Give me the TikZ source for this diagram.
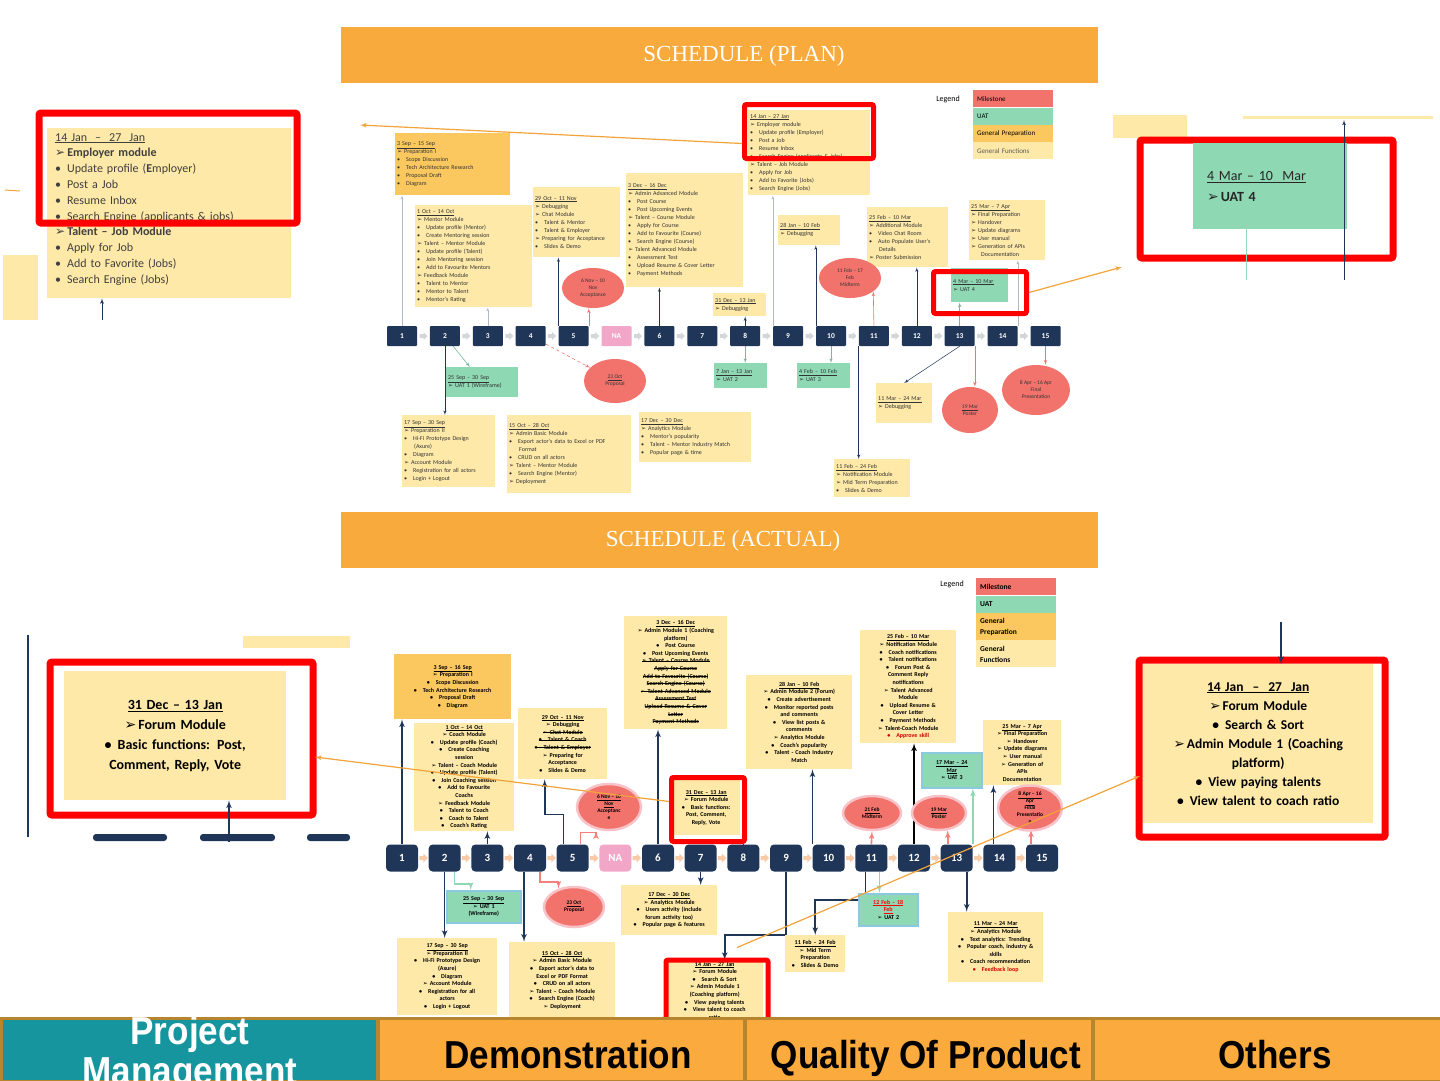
\documentclass[tikz,border=0pt]{standalone}
\usepackage{fontspec}
\setmainfont{Carlito}
\newfontfamily\symfont{DejaVu Sans}
\newfontfamily\headfont{Liberation Serif}
\newfontfamily\barfont{Liberation Sans}[FakeStretch=0.9]
\usepackage{tikz}
\usetikzlibrary{shapes,arrows,calc,positioning}
\pgfdeclarelayer{background}
\pgfsetlayers{background,main}

\definecolor{navy}{HTML}{1F3658}
\definecolor{bannerorange}{HTML}{F8AA3C}
\definecolor{prepyellow}{HTML}{FBC860}
\definecolor{funcyellow}{HTML}{FEE9A8}
\definecolor{uatgreen}{HTML}{8ED8B4}
\definecolor{milered}{HTML}{F2726C}
\definecolor{halopink}{HTML}{F7C3C9}
\definecolor{napink}{HTML}{F2A7C8}
\definecolor{callred}{HTML}{FF0000}
\definecolor{chevgrey}{HTML}{D3D6DB}
\definecolor{chevpeach}{HTML}{F8CBA6}
\definecolor{uatblue}{HTML}{8CC8E0}
\definecolor{pmteal}{HTML}{17959F}
\definecolor{barorange}{HTML}{FBAB3E}
\definecolor{barbrown}{HTML}{B8852F}
\definecolor{arrowor}{HTML}{F2A33A}
\definecolor{textgrey}{HTML}{404040}

\newcommand{\chev}{{\symfont ➢}\hspace{2pt}}
\newcommand{\bul}{\textbullet\hspace{6pt}}
\newsavebox{\strikebox}
\newcommand{\strike}[1]{\leavevmode\sbox{\strikebox}{#1}\rlap{\usebox{\strikebox}}\rule[0.6ex]{\wd\strikebox}{0.5pt}}

\tikzstyle{line} = [draw, -latex']
\tikzstyle{navyline} = [line, navy, line width=0.5pt]
\tikzstyle{faintline} = [line, navy!35, line width=0.4pt]
\tikzstyle{redline} = [line, milered, line width=0.6pt]
\tikzstyle{greenline} = [line, uatgreen!85!black, line width=0.6pt]
\tikzstyle{thickline} = [line, navy, line width=1.6pt]
\tikzstyle{amline} = [line, milered!90!white, line width=1.6pt]
\tikzstyle{auline} = [line, uatgreen, line width=1.6pt]
\tikzstyle{pointer} = [draw=arrowor, line width=1.2pt, -latex']
\tikzstyle{block} = [fill=funcyellow, anchor=north west, inner sep=2pt, align=left, text=black!80, font=\fontsize{6}{8}\selectfont]
\tikzstyle{prepblock} = [block, fill=prepyellow]
\tikzstyle{uatblock} = [block, fill=uatgreen]
\tikzstyle{ablock} = [block, align=center, text=black, font=\bfseries\fontsize{6}{7.6}\selectfont]
\tikzstyle{aprep} = [ablock, fill=prepyellow]
\tikzstyle{auat} = [ablock, fill=uatgreen, draw=uatblue, line width=1.5pt]
\tikzstyle{mile} = [ellipse, fill=milered, inner sep=0pt, align=center, text=black!80, font=\fontsize{5.5}{7}\selectfont]
\tikzstyle{amile} = [mile, draw=halopink, line width=2.5pt, text=black, font=\bfseries\fontsize{5.5}{7}\selectfont]
\tikzstyle{tnode} = [fill=navy, text=white, minimum width=30pt, minimum height=20pt, inner sep=0pt, rounded corners=1pt, font=\bfseries\fontsize{7.5}{8}\selectfont]
\tikzstyle{anode} = [tnode, minimum width=32pt, minimum height=27pt, rounded corners=4pt, font=\bfseries\fontsize{11}{12}\selectfont]
\tikzstyle{callout} = [draw=callred, line width=5pt, rounded corners=2pt, anchor=north west, inner sep=0pt]
\tikzstyle{banner} = [fill=bannerorange, anchor=north west, minimum width=757pt, minimum height=56pt]
\tikzstyle{legendbox} = [anchor=north west, text width=72pt, minimum height=17pt, inner sep=4pt, align=left, font=\fontsize{7}{9}\selectfont]
\tikzstyle{barcell} = [fill=barorange, draw=barbrown, line width=2.5pt, anchor=north west, minimum height=63pt]
\tikzstyle{bartext} = [font=\barfont\bfseries\fontsize{39}{40}\selectfont, anchor=base, inner sep=0pt]

\begin{document}
\begin{tikzpicture}[x=1pt, y=-1pt]
\useasboundingbox (0,0) rectangle (1440,1080);

% ---------------- schedule (plan) ----------------
\node[banner] (plan) at (341,27) {};
\node[text=white, font=\headfont\fontsize{23}{26}\selectfont] (plantitle) at (744,56) {SCHEDULE (PLAN)};

\node[font=\fontsize{8}{9}\selectfont] (plegend) at (948,99) {Legend};
\node[legendbox, fill=milered] (plm) at (973,90) {Milestone};
\node[legendbox, fill=uatgreen, below=0pt of plm] (plu) {UAT};
\node[legendbox, fill=prepyellow, below=0pt of plu] (plp) {General Preparation};
\node[legendbox, fill=funcyellow, text=black!65, below=0pt of plp] (plf) {General Functions};

\foreach \lab/\i in {1/0,2/1,3/2,4/3,5/4,6/6,7/7,8/8,9/9,10/10,11/11,12/12,13/13,14/14,15/15}
  \node[tnode] (p\lab) at ({402+42.9*\i},336) {\lab};
\node[tnode, fill=napink] (pNA) at ({402+42.9*5},336) {NA};
\foreach \i in {0,...,14}
  \fill[chevgrey] ({419.5+42.9*\i},334) -- ++(4,0) -- ++(0,-2) -- ++(4,4) -- ++(-4,4) -- ++(0,-2) -- ++(-4,0) -- cycle;

\node[prepblock, text width=111pt, minimum height=62pt] (b1) at (395,133) {\underline{3 Sep – 15 Sep}\\ \chev Preparation I\\ \bul Scope Discussion\\ \bul Tech Architecture Research\\ \bul Proposal Draft\\ \bul Diagram};
\node[block, text width=113pt, minimum height=102pt] (b2) at (415,205) {\underline{1 Oct – 14 Oct}\\ \chev Mentor Module\\ \bul Update profile (Mentor)\\ \bul Create Mentoring session\\ \chev Talent – Mentor Module\\ \bul Update profile (Talent)\\ \bul Join Mentoring session\\ \bul Add to Favourite Mentors\\ \chev Feedback Module\\ \bul Talent to Mentor\\ \bul Mentor to Talent\\ \bul Mentor's Rating};
\node[block, text width=83pt, minimum height=70pt] (b4) at (533,187) {\underline{29 Oct – 11 Nov}\\ \chev Debugging\\ \chev Chat Module\\ \bul Talent \& Mentor\\ \bul Talent \& Employer\\ \chev Preparing for Acceptance\\ \bul Slides \& Demo};
\node[block, text width=113pt, minimum height=114pt] (b6) at (626,173) {\underline{3 Dec – 16 Dec}\\ \chev Admin Advanced Module\\ \bul Post Course\\ \bul Post Upcoming Events\\ \chev Talent – Course Module\\ \bul Apply for Course\\ \bul Add to Favourite (Course)\\ \bul Search Engine (Course)\\ \chev Talent Advanced Module\\ \bul Assessment Test\\ \bul Upload Resume \& Cover Letter\\ \bul Payment Methods};
\node[block, text width=49pt, minimum height=23pt] (b8) at (713,293) {\underline{31 Dec – 13 Jan}\\ \chev Debugging};
\node[block, text width=118pt, minimum height=85pt] (b9) at (748,110) {\underline{14 Jan – 27 Jan}\\ \chev Employer module\\ \bul Update profile (Employer)\\ \bul Post a Job\\ \bul Resume Inbox\\ \bul Search Engine (applicants \& jobs)\\ \chev Talent – Job Module\\ \bul Apply for Job\\ \bul Add to Favorite (Jobs)\\ \bul Search Engine (Jobs)};
\node[block, text width=58pt, minimum height=30pt] (b10) at (778,215) {\underline{28 Jan – 10 Feb}\\ \chev Debugging};
\node[block, text width=77pt, minimum height=60pt] (b12) at (867,207) {\underline{25 Feb – 10 Mar}\\ \chev Additional Module\\ \bul Video Chat Room\\ \bul Auto Populate User's\\ \hspace{10pt}Details\\ \chev Poster Submission};
\node[block, text width=72pt, minimum height=60pt] (b14) at (969,200) {\underline{25 Mar – 7 Apr}\\ \chev Final Preparation\\ \chev Handover\\ \chev Update diagrams\\ \chev User manual\\ \chev Generation of APIs\\ \hspace{10pt}Documentation};
\node[uatblock, text width=53pt, minimum height=34pt] (u4) at (951,268) {\underline{4 Mar – 10 Mar}\\ \chev UAT 4};

\node[uatblock, text width=68pt, minimum height=30pt] (u1) at (446,367) {\underline{25 Sep – 30 Sep}\\ \chev UAT 1 (Wireframe)};
\node[uatblock, text width=49pt, minimum height=25pt] (u2) at (714,363) {\underline{7 Jan – 13 Jan}\\ \chev UAT 2};
\node[uatblock, text width=49pt, minimum height=25pt] (u3) at (797,363) {\underline{4 Feb – 10 Feb}\\ \chev UAT 3};
\node[block, text width=52pt, minimum height=40pt] (b13) at (876,383) {\underline{11 Mar – 24 Mar}\\ \chev Debugging};
\node[block, text width=89pt, minimum height=72pt] (b2b) at (402,415) {\underline{17 Sep – 30 Sep}\\ \chev Preparation II\\ \bul Hi-Fi Prototype Design\\ \hspace{10pt}(Axure)\\ \bul Diagram\\ \chev Account Module\\ \bul Registration for all actors\\ \bul Login + Logout};
\node[block, text width=120pt, minimum height=78pt] (b4b) at (507,415) {\underline{15 Oct – 28 Oct}\\ \chev Admin Basic Module\\ \bul Export actor's data to Excel or PDF\\ \hspace{10pt}Format\\ \bul CRUD on all actors\\ \chev Talent – Mentor Module\\ \bul Search Engine (Mentor)\\ \chev Deployment};
\node[block, text width=108pt, minimum height=50pt] (b7b) at (639,412) {\underline{17 Dec – 30 Dec}\\ \chev Analytics Module\\ \bul Mentor's popularity\\ \bul Talent – Mentor Industry Match\\ \bul Popular page \& time};
\node[block, text width=72pt, minimum height=38pt] (b11b) at (834,459) {\underline{11 Feb – 24 Feb}\\ \chev Notification Module\\ \chev Mid Term Preparation\\ \bul Slides \& Demo};

\node[mile, minimum width=62pt, minimum height=44pt] (m4) at (615,381) {\underline{23 Oct}\\Proposal};
\node[mile, minimum width=62pt, minimum height=40pt] (m5) at (593,288) {6 Nov – 10\\Nov\\Acceptance};
\node[mile, minimum width=62pt, minimum height=40pt] (m10) at (850,278) {11 Feb – 17\\Feb\\Midterm};
\node[mile, minimum width=56pt, minimum height=46pt] (m13) at (970,410) {\underline{19 Mar}\\Poster};
\node[mile, minimum width=68pt, minimum height=50pt] (m15) at (1036,390) {8 Apr – 16 Apr\\Final\\Presentation};

\node[callout, minimum width=129pt, minimum height=54pt] (r9) at (742,102) {};
\node[callout, minimum width=93pt, minimum height=42pt] (r14) at (931,269) {};

\begin{pgfonlayer}{background}
\path[faintline] (p1.north) -- (p1.north |- b1.south);
\path[faintline] (p3.north) -- (p3.north |- b2.south);
\path[navyline] (p5.north west) -- (p5.north west |- b4.south);
\path[redline] (p5.north east) -- (p5.north east |- m5.south);
\path[navyline] (p6.north) -- (p6.north |- b6.south);
\path[navyline] (p8.north) -- (p8.north |- b8.south);
\path[faintline] (p9.north west) -- (p9.north west |- b9.south);
\path[navyline] (p10.north west) -- (p10.north west |- b10.south);
\path[redline] (p11.north) -- (m10.-30);
\path[navyline] (p12.north) -- (p12.north |- b12.south);
\path[greenline] (p13.north) -- (p13.north |- u4.south);
\path[faintline] (p14.north east) -- (p14.north east |- b14.south);
\path[navyline] (p2.south) -- (p2.south |- b2b.north);
\path[greenline] (p2) -- (u1);
\path[redline, dashed] (p4) -- (m4);
\path[greenline] (p8.south) -- (p8.south |- u2.north);
\path[greenline] (p10.south) -- (p10.south |- u3.north);
\path[navyline] (p11.south west) -- (p11.south west |- b11b.north);
\path[navyline] (p13.south) -- (b13.north);
\path[redline] (p13.south east) -- (p13.south east |- m13.north);
\path[redline] (p15.south) -- (p15.south |- m15.north);
\end{pgfonlayer}

% zoomed call-outs of the plan
\fill[funcyellow] (3,255) rectangle (38,320);
\draw[arrowor, line width=1pt] (5,190) -- (20,191);
\node[block, text width=228pt, minimum height=170pt, inner xsep=8pt, text=textgrey, font=\fontsize{12}{15.8}\selectfont] (tl9) at (47,128) {\underline{14 Jan \ – \ 27 \ Jan}\\ \chev\textbf{Employer module}\\ \bul Update profile (\textbf{E}mployer)\\ \bul Post a Job\\ \bul Resume Inbox\\ \bul Search Engine (applicants \& jobs)\\ \chev\textbf{Talent – Job Module}\\ \bul Apply for Job\\ \bul Add to Favorite (Jobs)\\ \bul Search Engine (Jobs)\\[-6pt] \mbox{}};
\node[callout, line width=7pt, minimum width=258pt, minimum height=110pt] (rtl) at (35.5,109.5) {};
\coordinate (tlfoot) at (102,320);
\draw[navyline, line width=0.8pt] (tlfoot) -- (tlfoot |- tl9.south);

\fill[funcyellow] (1113,115) rectangle (1187,138);
\fill[funcyellow] (1243,116) rectangle (1433,119);
\node[callout, line width=7pt, minimum width=253pt, minimum height=118pt] (rtr) at (1136.5,136.5) {};
\node[uatblock, text width=126pt, minimum height=86pt, inner xsep=14pt, text=black!85, font=\fontsize{14}{21}\selectfont] (tr4) at (1193,143) {\underline{4 Mar – 10 \ Mar}\\ \chev\textbf{UAT 4}};
\coordinate (trtop) at (1344,120);
\coordinate (trfoot) at (1344,280);
\draw[navyline, line width=0.8pt] (trfoot) -- (trtop);
\coordinate (trg) at (1246,280);
\draw[uatgreen, line width=0.8pt] (trg) -- (trg |- tr4.south);

\coordinate (tlpt) at (360,125);
\draw[pointer] ($(r9.west)+(0,12)$) -- (tlpt);
\coordinate (trpt) at (1122,267);
\draw[pointer] (r14.east) -- (trpt);

% ---------------- schedule (actual) ----------------
\node[banner] (actual) at (341,512) {};
\node[text=white, font=\headfont\fontsize{23}{26}\selectfont] (actualtitle) at (723,541) {SCHEDULE (ACTUAL)};

\node[font=\fontsize{8}{9}\selectfont] (alegend) at (952,584) {Legend};
\node[legendbox, fill=milered, font=\bfseries\fontsize{7.5}{10}\selectfont] (alm) at (976,578) {Milestone};
\node[legendbox, fill=uatgreen, font=\bfseries\fontsize{7.5}{10}\selectfont, below=0pt of alm] (alu) {UAT};
\node[legendbox, fill=prepyellow, minimum height=27pt, font=\bfseries\fontsize{7.5}{11}\selectfont, below=0pt of alu] (alp) {General\\Preparation};
\node[legendbox, fill=funcyellow, minimum height=27pt, font=\bfseries\fontsize{7.5}{11}\selectfont, below=0pt of alp] (alf) {General\\Functions};

\foreach \lab/\i in {1/0,2/1,3/2,4/3,5/4,6/6,7/7,8/8,9/9,10/10,11/11,12/12,13/13,14/14,15/15}
  \node[anode] (a\lab) at ({402+42.67*\i},858) {\lab};
\node[anode, fill=napink] (aNA) at ({402+42.67*5},858) {NA};
\foreach \i in {0,...,14}
  \fill[chevpeach] ({419.3+42.67*\i},856) -- ++(4,0) -- ++(0,-2.5) -- ++(4.5,4.5) -- ++(-4.5,4.5) -- ++(0,-2.5) -- ++(-4,0) -- cycle;

\node[aprep, text width=113pt, minimum height=65pt] (c1) at (394,654) {\underline{3 Sep – 16 Sep}\\ \chev Preparation I\\ \bul Scope Discussion\\ \bul Tech Architecture Research\\ \bul Proposal Draft\\ \bul Diagram};
\node[ablock, text width=96pt, minimum height=107pt] (c3) at (414,723) {\underline{1 Oct – 14 Oct}\\ \chev Coach Module\\ \bul Update profile (Coach)\\ \bul Create Coaching\\ session\\ \chev Talent – Coach Module\\ \bul Update profile (Talent)\\ \bul Join Coaching session\\ \bul Add to Favourite\\ Coachs\\ \chev Feedback Module\\ \bul Talent to Coach\\ \bul Coach to Talent\\ \bul Coach's Rating};
\node[ablock, text width=85pt, minimum height=71pt] (c5) at (518,708) {\underline{29 Oct – 11 Nov}\\ \chev Debugging\\ \strike{\chev Chat Module}\\ \strike{\bul Talent \& Coach}\\ \strike{\bul Talent \& Employer}\\ \chev Preparing for\\ Acceptance\\ \bul Slides \& Demo};
\node[ablock, text width=99pt, minimum height=113pt] (c6) at (624,616) {\underline{3 Dec – 16 Dec}\\ \chev Admin Module 1 (Coaching\\ platform)\\ \bul Post Course\\ \bul Post Upcoming Events\\ \strike{\chev Talent – Course Module}\\ \strike{Apply for Course}\\ \strike{Add to Favourite (Course)}\\ \strike{Search Engine (Course)}\\ \strike{\chev Talent Advanced Module}\\ \strike{Assessment Test}\\ \strike{Upload Resume \& Cover}\\ \strike{Letter}\\ \strike{Payment Methods}};
\node[ablock, text width=64pt, minimum height=55pt] (c8) at (672,780) {\underline{31 Dec – 13 Jan}\\ \chev Forum Module\\ \bul Basic functions:\\ Post, Comment,\\ Reply, Vote};
\node[callout, minimum width=73pt, minimum height=64pt] (r8) at (669,775) {};
\node[ablock, text width=102pt, minimum height=94pt] (c10) at (746,675) {\underline{28 Jan – 10 Feb}\\ \chev Admin Module 2 (Forum)\\ \bul Create advertisement\\ \bul Monitor reported posts\\ and comments\\ \bul View list posts \&\\ comments\\ \chev Analytics Module\\ \bul Coach's popularity\\ \bul Talent - Coach Industry\\ Match};
\node[ablock, text width=92pt, minimum height=113pt] (c12) at (860,630) {\underline{25 Feb – 10 Mar}\\ \chev Notification Module\\ \bul Coach notifications\\ \bul Talent notifications\\ \bul Forum Post \&\\ Comment Reply\\ notifications\\ \chev Talent Advanced\\ Module\\ \bul Upload Resume \&\\ Cover Letter\\ \bul Payment Methods\\ \chev Talent-Coach Module\\ \textcolor{red!80!black}{\bul Approve skill}};
\node[auat, text width=56pt, minimum height=35pt] (cu3) at (921,752) {\underline{17 Mar – 24}\\ \underline{Mar}\\ \chev UAT 3};
\node[ablock, text width=74pt, minimum height=65pt] (c14) at (983,720) {\underline{25 Mar – 7 Apr}\\ \chev Final Preparation\\ \chev Handover\\ \chev Update diagrams\\ \chev User manual\\ \chev Generation of\\ APIs\\ Documentation};

\node[amile, minimum width=64pt, minimum height=46pt] (cm5) at (609,807) {\underline{6 Nov – 10}\\ \underline{Nov}\\ Acceptanc\\ e};
\node[amile, minimum width=58pt, minimum height=34pt] (cm11) at (872,813) {\underline{21 Feb}\\ Midterm};
\node[amile, minimum width=54pt, minimum height=34pt] (cm13) at (939,813) {\underline{19 Mar}\\ Poster};
\node[amile, minimum width=64pt, minimum height=42pt] (cm15) at (1030,808) {\underline{8 Apr – 16}\\ \underline{Apr}\\ Final\\ Presentatio\\ n};
\node[amile, minimum width=60pt, minimum height=40pt] (cm4) at (574,907) {\underline{23 Oct}\\ Proposal};

\node[auat, text width=70pt, minimum height=32pt] (cu1) at (446,890) {\underline{25 Sep – 30 Sep}\\ \chev UAT 1\\ (Wireframe)};
\node[ablock, text width=92pt, minimum height=50pt] (c7b) at (621,885) {\underline{17 Dec – 30 Dec}\\ \chev Analytics Module\\ \bul Users activity (include\\ forum activity too)\\ \bul Popular page \& features};
\node[auat, text width=55pt, minimum height=32pt] (cu2) at (858,893) {\textcolor{red}{\underline{12 Feb – 18}}\\ \textcolor{red}{\underline{Feb}}\\ \chev UAT 2};
\node[ablock, text width=56pt, minimum height=37pt] (c11b) at (785,935) {\underline{11 Feb – 24 Feb}\\ \chev Mid Term\\ Preparation\\ \bul Slides \& Demo};
\node[ablock, text width=91pt, minimum height=70pt] (c13b) at (948,912) {\underline{11 Mar – 24 Mar}\\ \chev Analytics Module\\ \bul Text analytics: Trending\\ \bul Popular coach, industry \&\\ skills\\ \bul Coach recommendation\\ \textcolor{red!80!black}{\bul Feedback loop}};
\node[ablock, text width=96pt, minimum height=77pt] (c2b) at (397,938) {\underline{17 Sep – 30 Sep}\\ \chev Preparation II\\ \bul Hi-Fi Prototype Design\\ (Axure)\\ \bul Diagram\\ \chev Account Module\\ \bul Registration for all\\ actors\\ \bul Login + Logout};
\node[ablock, text width=102pt, minimum height=76pt] (c4b) at (509,942) {\underline{15 Oct – 28 Oct}\\ \chev Admin Basic Module\\ \bul Export actor's data to\\ Excel or PDF Format\\ \bul CRUD on all actors\\ \chev Talent – Coach Module\\ \bul Search Engine (Coach)\\ \chev Deployment};
\node[ablock, text width=93pt] (c9b) at (666,960) {\underline{14 Jan – 27 Jan}\\ \chev Forum Module\\ \bul Search \& Sort\\ \chev Admin Module 1\\ (Coaching platform)\\ \bul View paying talents\\ \bul View talent to coach\\ ratio};
\node[callout, minimum width=102pt, minimum height=80pt] (r9b) at (663.5,957.5) {};

\begin{pgfonlayer}{background}
\path[thickline] (a1.north) -- (a1.north |- c1.south);
\path[thickline] (a3.north) -- (a3.north |- c3.south);
\path[thickline] ($(a5.north)+(-9,0)$) -- ++(0,-30) -| ($(c5.south)+(-18,0)$);
\path[amline] ($(a5.north)+(8,0)$) -- ++(0,-12) -| ($(cm5.south)+(-13,0)$);
\path[thickline] (a6.north) -- (a6.north |- c6.south);
\path[thickline] (a8.north) -- (a8.north |- r8.south);
\path[thickline] (a10.north west) -- (a10.north west |- c10.south);
\path[amline] (a11.north) -- (cm11.south);
\path[thickline, black] (a12.north) -- (a12.north |- c12.south);
\path[amline] ($(a13.north)+(-9,0)$) -- ++(0,-14);
\path[auline] (a13.north east) -- (a13.north east |- cu3.south);
\path[thickline] ($(a14.north)+(-6,0)$) -- ++(0,-59);
\path[amline] ($(a15.north)+(-11,0)$) -- ++(0,-15);
\path[thickline] (a2.south) -- (a2.south |- c2b.north);
\path[auline] ($(a2.south)+(10,0)$) -- ++(0,12) -| ($(cu1.north)+(-13,0)$);
\path[thickline] ($(a4.south)+(-6,0)$) -- ++(0,70);
\path[amline] ($(a4.south)+(10,0)$) -- ++(0,10) -| (cm4.130);
\path[thickline] (a7.south) -- (a7.south |- c7b.north);
\path[thickline] (a9.south) -- ++(0,63) -| ($(c9b.north)+(10,0)$);
\path[thickline] ($(a11.south)+(-6,0)$) -- ++(0,28) -| (c11b.north);
\path[auline] ($(a11.south)+(8,0)$) -- ++(0,21);
\path[thickline] ($(a13.south)+(10,0)$) -- ++(0,40);
\end{pgfonlayer}

% zoomed call-outs of the actual schedule
\draw[navy, line width=1.5pt] (28,635) -- (28,837);
\fill[funcyellow] (243,636) rectangle (350,648);
\foreach \xa/\xb in {93/167,200/275,307/350}
  \fill[navy, rounded corners=3pt] (\xa,834) rectangle (\xb,841);
\node[callout, line width=7pt, minimum width=263pt, minimum height=153pt] (rbl) at (46.5,658.5) {};
\node[ablock, text width=206pt, minimum height=129pt, inner xsep=8pt, font=\bfseries\fontsize{14}{20}\selectfont] (bl8) at (64,671) {\underline{31 Dec – 13 Jan}\\ \chev Forum Module\\ \bul Basic functions: Post,\\ Comment, Reply, Vote};
\coordinate (blfoot) at (229,842);
\draw[thickline] (blfoot) -- (blfoot |- bl8.south);

\node[callout, line width=7pt, minimum width=246pt, minimum height=177pt] (rbr) at (1135.5,656.5) {};
\node[ablock, text width=214pt, minimum height=159pt, inner xsep=8pt, font=\bfseries\fontsize{13.5}{19}\selectfont] (br9) at (1143,664) {\underline{14 Jan \ – \ 27 \ Jan}\\ \chev Forum Module\\ \bul Search \& Sort\\ \chev Admin Module 1 (Coaching\\ platform)\\ \bul View paying talents\\ \bul View talent to coach ratio};
\coordinate (brtop) at (1281,622);
\draw[thickline] (brtop) -- (brtop |- br9.north);

\coordinate (blpt) at (315,757);
\draw[pointer] ($(r8.west)+(0,-8)$) -- (blpt);
\coordinate (brpt) at (1140,776);
\draw[pointer] ($(r9b.north)+(20,-10)$) -- (brpt);

% ---------------- bottom bar ----------------
\node[barcell, fill=pmteal, minimum width=376pt] (pm) at (0,1017) {};
\node[barcell, minimum width=366pt] (demo) at (377,1017) {};
\node[barcell, minimum width=347pt] (qual) at (744,1017) {};
\node[barcell, minimum width=348pt] (oth) at (1092,1017) {};
\begin{scope}
  \clip (pm.south west) rectangle (pm.north east);
  \node[bartext, text=white, align=center, anchor=north] (pmt) at (190,1016) {Project\\Management};
\end{scope}
\node[bartext] (demot) at (568,1068) {Demonstration};
\node[bartext] (qualt) at (926,1068) {Quality Of Product};
\node[bartext] (otht) at (1275,1068) {Others};
\end{tikzpicture}
\end{document}
